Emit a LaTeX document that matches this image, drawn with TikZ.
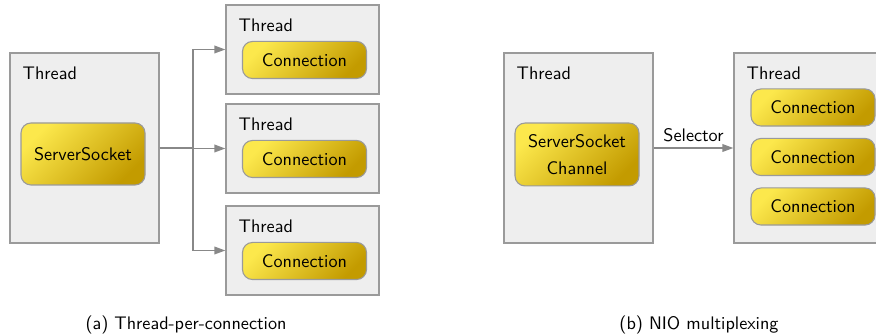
\documentclass[tikz,border=0pt]{standalone}
\usepackage{tikz}
\usetikzlibrary{positioning,calc,arrows.meta}
\definecolor{boxfill}{HTML}{EEEEEE}
\definecolor{boxline}{HTML}{9A9A9A}
\definecolor{linkgray}{HTML}{888888}
\definecolor{goldlight}{HTML}{FCE84C}
\definecolor{golddark}{HTML}{C39B00}

\begin{document}
\begin{tikzpicture}[x=0.55pt, y=-0.55pt, font=\sffamily,
  thread/.style={draw=boxline, fill=boxfill, line width=0.7pt, inner sep=0pt},
  worker/.style={draw=boxline, line width=0.6pt, rounded corners=5.5pt,
    top color=goldlight, bottom color=golddark, shading angle=45,
    minimum width=68.2pt, align=center, inner sep=0pt},
  tname/.style={anchor=base west, inner sep=0pt},
  link/.style={draw=linkgray, line width=0.8pt, -{Triangle[length=6pt,width=4.2pt]}}]
  \clip (0,0) rectangle (876,335);
  % (a)
  \node[thread, minimum width=82pt, minimum height=104.5pt] (t0) at (84.5,148) {};
  \node[tname] (n0) at ($(t0.north west)+(13,27)$) {Thread};
  \node[worker, minimum height=34.1pt] (ss) at (83,154) {ServerSocket};
  \foreach \i/\y in {1/49.5,2/148.5,3/250.5} {
    \node[thread, minimum width=84.2pt, minimum height=49pt] (t\i) at (302.5,\y) {};
    \node[tname] (n\i) at ($(t\i.north west)+(13,27)$) {Thread};
    \node[worker, minimum height=20.4pt] (c\i) at ($(t\i.center)+(2,10.5)$) {Connection};
  }
  \coordinate (br) at (193,148);
  \foreach \i in {1,2,3}
    \draw[link] (t0.east) -- (br) |- (t\i.west);
  \node[anchor=base] (capa) at (186,329) {(a) Thread-per-connection};
  % (b)
  \node[thread, minimum width=82pt, minimum height=104.5pt] (t4) at (578.5,148) {};
  \node[tname] (n4) at ($(t4.north west)+(13,27)$) {Thread};
  \node[worker, minimum height=34.6pt] (ssc) at (577,154.5) {ServerSocket\\[2.8pt]Channel};
  \node[thread, minimum width=82pt, minimum height=104.5pt] (t5) at (808.5,148) {};
  \node[tname] (n5) at ($(t5.north west)+(13,27)$) {Thread};
  \foreach \i/\y in {6/107.5,7/157,8/206.5}
    \node[worker, minimum height=20.4pt] (c\i) at (813,\y) {Connection};
  \draw[link] (t4.east) -- node[above, inner sep=3pt] (sel) {Selector} (t5.west);
  \node[anchor=base] (capb) at (699,329) {(b) NIO multiplexing};
\end{tikzpicture}
\end{document}
